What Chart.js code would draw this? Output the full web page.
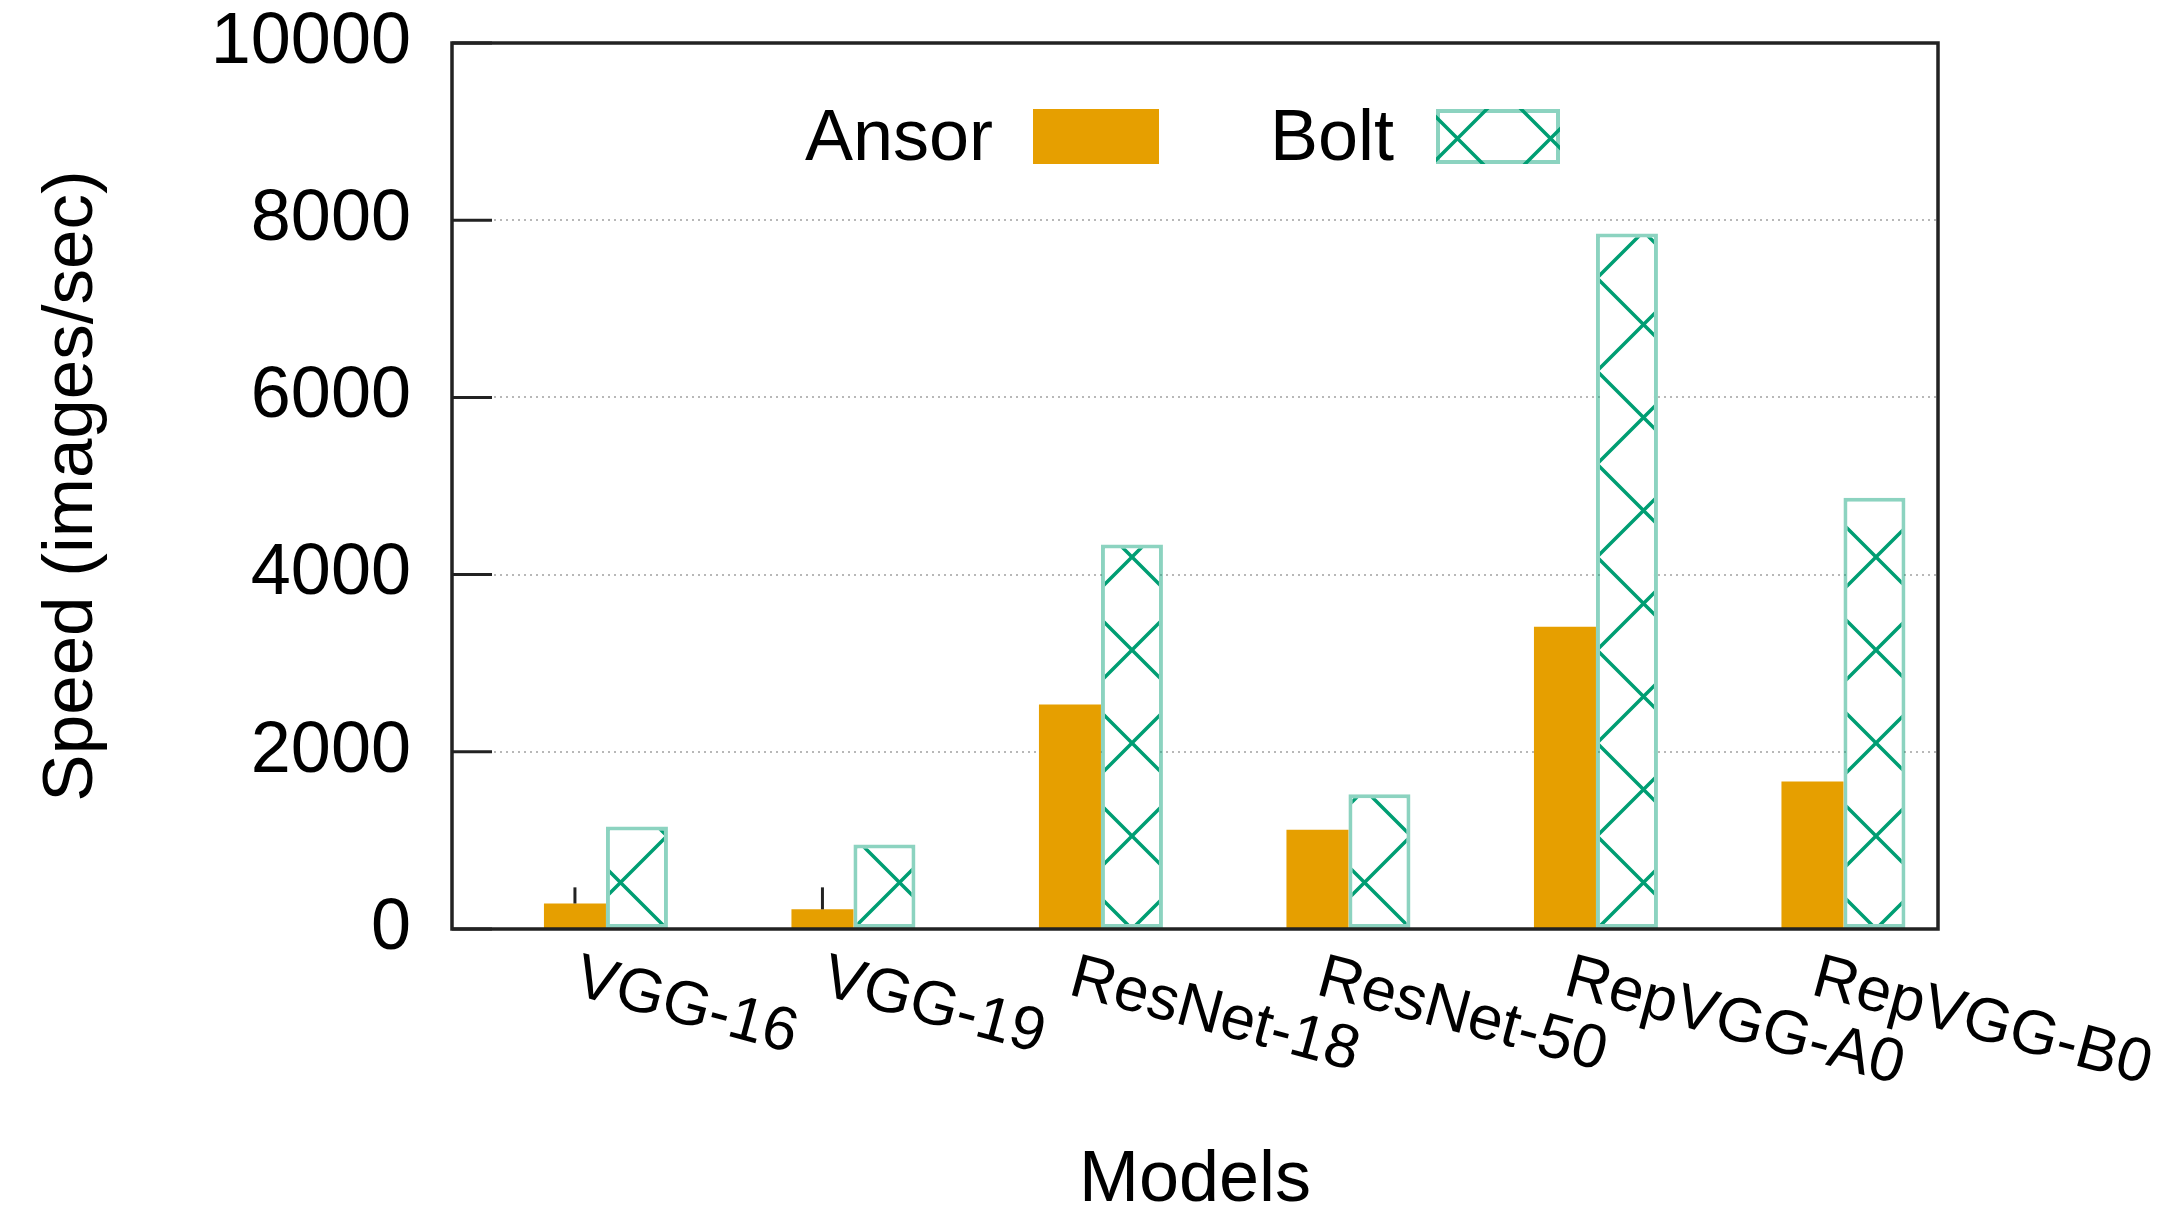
<!DOCTYPE html>
<html>
<head>
<meta charset="utf-8">
<title>Speed (images/sec)</title>
<script src="https://cdn.jsdelivr.net/npm/chart.js@4.4.1/dist/chart.umd.min.js"></script>
<style>
  html, body { margin: 0; padding: 0; background: #fff; }
  #wrap { width: 2168px; height: 1217px; position: relative; }
</style>
</head>
<body>
<div id="wrap"><canvas id="speedChart"></canvas></div>
<script>
// Data
const models = ["VGG-16", "VGG-19", "ResNet-18", "ResNet-50", "RepVGG-A0", "RepVGG-B0"];
const ansorSpeed = [288, 222, 2535, 1120, 3410, 1665];
const boltSpeed = [1157, 954, 4340, 1522, 7850, 4868];
const ansorErrTop = [470, 470, null, null, null, null];
const yTicks = [0, 2000, 4000, 6000, 8000, 10000];

const FONT = "'Liberation Sans', Arial, Helvetica, sans-serif";
const ORANGE = "#E69F00";
const GREEN = "#009E73";

// Cross hatch fill for the Bolt bars
function makeHatch(ctx) {
  const size = 93;
  const c = document.createElement("canvas");
  c.width = size;
  c.height = size;
  const g = c.getContext("2d");
  g.fillStyle = "#fff";
  g.fillRect(0, 0, size, size);
  g.strokeStyle = GREEN;
  g.lineWidth = 3.5;
  g.beginPath();
  g.moveTo(-4, -4); g.lineTo(size + 4, size + 4);
  g.moveTo(-4, size + 4); g.lineTo(size + 4, -4);
  g.stroke();
  const p = ctx.createPattern(c, "repeat");
  p.setTransform(new DOMMatrix().translate(16, -1));
  return p;
}

// Frame, inner ticks, error bars, rotated labels and legend
const extrasPlugin = {
  id: "extras",
  afterDatasetsDraw(chart) {
    const { ctx, chartArea: a, scales: { y } } = chart;
    const bars = chart.getDatasetMeta(0).data;
    ctx.save();
    ctx.strokeStyle = "#222";
    ctx.lineWidth = 3;
    ansorErrTop.forEach((top, i) => {
      if (top == null) return;
      const bx = bars[i].x;
      ctx.beginPath();
      ctx.moveTo(bx, y.getPixelForValue(ansorSpeed[i]));
      ctx.lineTo(bx, y.getPixelForValue(top));
      ctx.stroke();
    });
    yTicks.forEach(v => {
      const py = y.getPixelForValue(v);
      ctx.beginPath();
      ctx.moveTo(a.left, py);
      ctx.lineTo(a.left + 40, py);
      ctx.stroke();
    });
    ctx.lineWidth = 3.5;
    ctx.strokeRect(a.left, a.top, a.right - a.left, a.bottom - a.top);
    ctx.restore();
  },
  afterDraw(chart) {
    const { ctx, chartArea: a, scales: { x } } = chart;
    ctx.save();
    ctx.fillStyle = "#000";
    ctx.font = "62px " + FONT;
    ctx.textAlign = "left";
    ctx.textBaseline = "alphabetic";
    models.forEach((m, i) => {
      ctx.save();
      ctx.translate(x.getPixelForValue(i) - 34, a.bottom + 65);
      ctx.rotate(15 * Math.PI / 180);
      ctx.fillText(m, 0, 0);
      ctx.restore();
    });

    // legend
    const ds = chart.data.datasets;
    ctx.font = "72px " + FONT;
    ctx.textAlign = "right";
    ctx.textBaseline = "middle";
    ctx.fillText(ds[0].label, 993, 140);
    ctx.fillText(ds[1].label, 1394, 140);
    ctx.fillStyle = ds[0].backgroundColor;
    ctx.fillRect(1033, 109, 126, 55);
    ctx.fillStyle = ds[1].backgroundColor;
    ctx.fillRect(1436, 109, 124, 55);
    ctx.strokeStyle = ds[1].borderColor;
    ctx.lineWidth = 4;
    ctx.strokeRect(1438, 111, 120, 51);
    ctx.restore();
  }
};

const ctx = document.getElementById("speedChart").getContext("2d");
const hatch = makeHatch(ctx);

new Chart(ctx, {
  type: "bar",
  data: {
    datasets: [
      {
        label: "Ansor",
        data: ansorSpeed.map((v, i) => ({ x: i, y: v })),
        backgroundColor: ORANGE,
        borderWidth: 0,
        categoryPercentage: 0.501,
        barPercentage: 1
      },
      {
        label: "Bolt",
        data: boltSpeed.map((v, i) => ({ x: i, y: v })),
        backgroundColor: hatch,
        borderColor: "rgba(0,158,115,0.45)",
        borderWidth: 4,
        borderSkipped: false,
        categoryPercentage: 0.501,
        barPercentage: 1
      }
    ]
  },
  options: {
    responsive: true,
    maintainAspectRatio: false,
    animation: false,
    layout: { padding: { left: 0, top: 43, right: 230, bottom: 0 } },
    plugins: {
      legend: { display: false },
      tooltip: { enabled: false }
    },
    scales: {
      x: {
        type: "linear",
        min: -0.622,
        max: 5.382,
        offset: false,
        afterBuildTicks: axis => { axis.ticks = models.map((m, i) => ({ value: i })); },
        grid: { display: false },
        border: { display: false },
        ticks: { display: false },
        title: {
          display: true,
          text: "Models",
          color: "#000",
          font: { family: FONT, size: 72, lineHeight: 1 },
          padding: 0
        },
        afterFit: scale => { scale.height = 288; }
      },
      y: {
        min: 0,
        max: 10000,
        afterBuildTicks: axis => { axis.ticks = yTicks.map(v => ({ value: v })); },
        grid: { color: "#b8b8b8", lineWidth: 2, drawTicks: true, tickLength: 41, tickColor: "rgba(0,0,0,0)" },
        border: { display: false, dash: [2, 4] },
        ticks: {
          padding: 0,
          color: "#000",
          font: { family: FONT, size: 72, lineHeight: 1 },
          callback: v => String(v)
        },
        title: {
          display: true,
          text: "Speed (images/sec)",
          color: "#000",
          font: { family: FONT, size: 71, lineHeight: 1 },
          padding: { top: 37, bottom: 0 }
        },
        afterFit: scale => { scale.width = 452; }
      }
    }
  },
  plugins: [extrasPlugin]
});
</script>
</body>
</html>
